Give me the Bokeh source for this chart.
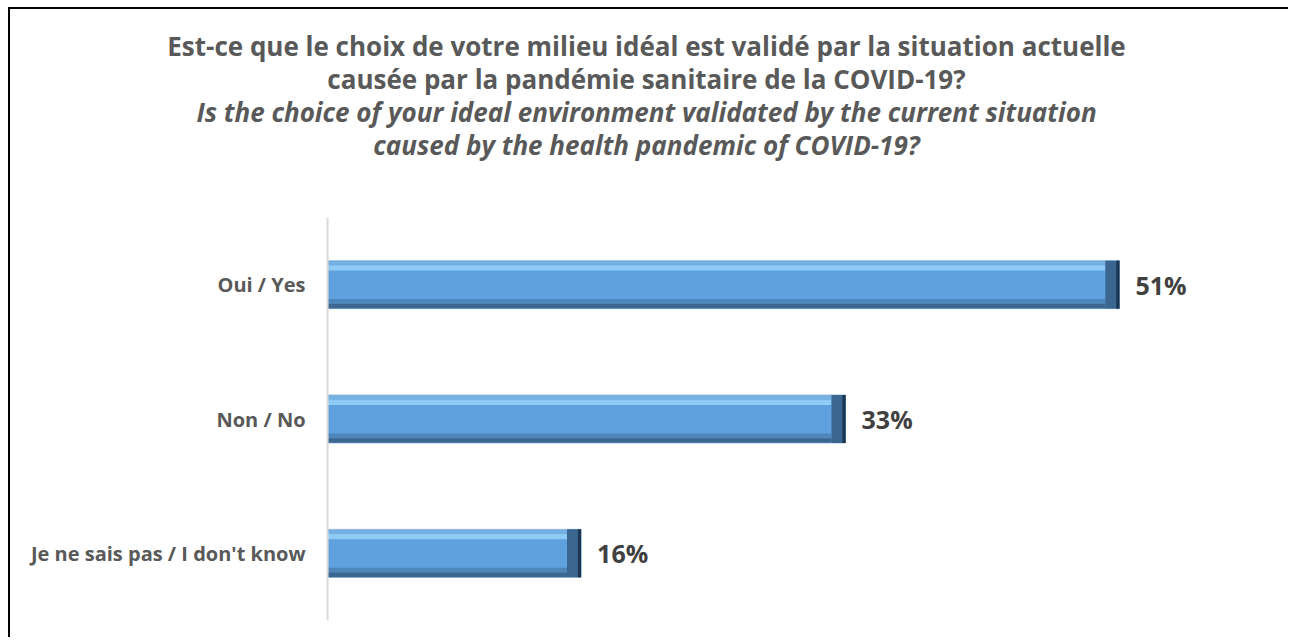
from bokeh.plotting import figure
from bokeh.models import ColumnDataSource, Range1d, FactorRange, Span, Title
from bokeh.transform import dodge
from bokeh.core.properties import value
from bokeh.embed import file_html
from bokeh.resources import INLINE

categories = ["Oui / Yes", "Non / No", "Je ne sais pas / I don't know"]
percentages = [50.6, 33.1, 16.2]
title_lines_fr = [
    "Est-ce que le choix de votre milieu idéal est validé par la situation actuelle",
    "causée par la pandémie sanitaire de la COVID-19?",
]
title_lines_en = [
    "Is the choice of your ideal environment validated by the current situation",
    "caused by the health pandemic of COVID-19?",
]

FONT = "Open Sans"
src = ColumnDataSource(dict(
    cat=categories,
    val=percentages,
    zero=[0] * len(percentages),
    cap_in=[v - 0.9 for v in percentages],
    cap_out=[v - 0.2 for v in percentages],
    lbl=[f"{round(v)}%" for v in percentages],
))

p = figure(
    width=1280, height=630,
    y_range=FactorRange(*reversed(categories), range_padding=0),
    x_range=Range1d(-20.26, 61.02),
    output_backend="svg", toolbar_location=None,
    x_axis_location=None, y_axis_location=None,
    min_border_left=0, min_border_right=8, min_border_bottom=19, min_border_top=208,
)
p.grid.visible = False
p.outline_line_color = None
p.styles = {"margin-left": "8px", "margin-top": "7px",
            "border-left": "2px solid #000000", "border-top": "2px solid #000000"}

# spacer between the title block and the plot area
p.add_layout(Title(text=" ", text_font_size="10px", standoff=44), "above")
lines = [(t, "bold") for t in title_lines_fr] + [(t, "bold italic") for t in title_lines_en]
for t, st in reversed(lines):
    p.add_layout(Title(text=t, align="center", text_font=FONT, text_font_size="26px",
                       text_font_style=st, text_color="#595959", standoff=-5.2), "above")

H = 0.357
p.hbar(y="cat", left="zero", right="val", height=H, source=src,
       fill_color="#5FA1DE", line_color="#9DBFDD", line_width=1)
p.hbar(y=dodge("cat", 0.125, range=p.y_range), left="zero", right="cap_in", height=0.04,
       source=src, fill_color="#8FCBF4", line_color=None)
p.hbar(y=dodge("cat", 0.16, range=p.y_range), left="zero", right="cap_in", height=0.025,
       source=src, fill_color="#76B1E4", line_color=None)
p.hbar(y=dodge("cat", -0.125, range=p.y_range), left="zero", right="cap_in", height=0.035,
       source=src, fill_color="#4F86BA", line_color=None)
p.hbar(y=dodge("cat", -0.16, range=p.y_range), left="zero", right="cap_in", height=0.035,
       source=src, fill_color="#3C6790", line_color=None)
p.hbar(y="cat", left="cap_in", right="val", height=H, source=src,
       fill_color="#3A6690", line_color=None)
p.hbar(y="cat", left="cap_out", right="val", height=H, source=src,
       fill_color="#1C3652", line_color=None)

p.add_layout(Span(location=0, dimension="height", line_color="#D9D9D9", line_width=2))

p.text(x="zero", y="cat", text="cat", source=src, x_offset=-22,
       text_align="right", text_baseline="middle", text_font=value(FONT),
       text_font_size="20px", text_font_style="bold", text_color="#595959")
p.text(x="val", y="cat", text="lbl", source=src, x_offset=16,
       text_align="left", text_baseline="middle", text_font=value(FONT),
       text_font_size="25px", text_font_style="bold", text_color="#404040")

open("out.html", "w").write(file_html(p, INLINE))
